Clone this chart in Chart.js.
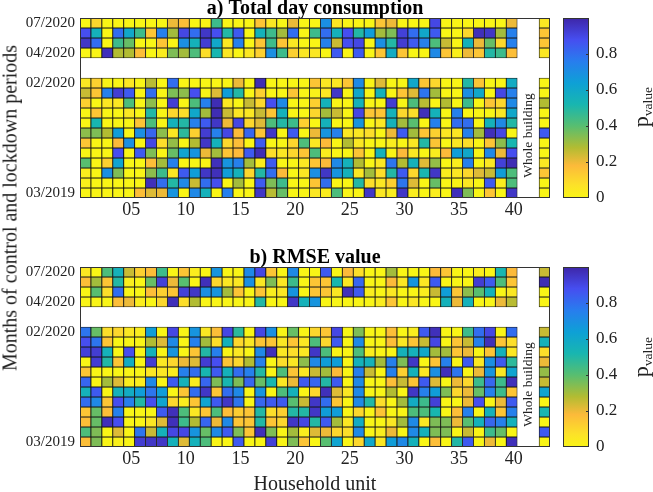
<!DOCTYPE html>
<html><head><meta charset="utf-8">
<script src="https://cdn.jsdelivr.net/npm/chart.js@4"></script>
<style>
html,body{margin:0;padding:0;background:#fff;width:653px;height:492px;overflow:hidden}
canvas{position:absolute}
.t{position:absolute;font-family:"Liberation Serif",serif;color:#222;white-space:nowrap;transform:translate(-50%,-50%) rotate(-90deg)}
</style></head><body>
<canvas id="heatA" style="left:0;top:0"></canvas>
<canvas id="barA" style="left:558px;top:0"></canvas>
<canvas id="heatB" style="left:0;top:249px"></canvas>
<canvas id="barB" style="left:558px;top:249px"></canvas>
<div class="t" style="left:10px;top:208px;font-size:20px">Months of control and lockdown periods</div>
<div class="t" style="left:641px;top:107px;font-size:22px">p<span style="font-size:13.5px;position:relative;top:4px">value</span></div>
<div class="t" style="left:641px;top:357px;font-size:22px">p<span style="font-size:13.5px;position:relative;top:4px">value</span></div>
<script>
const units=[1,2,3,4,5,6,7,8,9,10,11,12,13,14,15,16,17,18,19,20,21,22,23,24,25,26,27,28,29,30,31,32,33,34,35,36,37,38,39,40,41,42,43];
const unitTicks={5:'05',10:'10',15:'15',20:'20',25:'25',30:'30',35:'35',40:'40'};
const months=['07/2020','06/2020','05/2020','04/2020','-','-','02/2020','01/2020','12/2019','11/2019','10/2019','09/2019','08/2019','07/2019','06/2019','05/2019','04/2019','03/2019'];
const monthTicks=['07/2020','04/2020','02/2020','03/2019'];
const barTicks=[0,.2,.4,.6,.8];
const totalDay=[
[0,.1,0,0,0,0,0,0,.2,.17,0,0,.45,0,0,0,.15,.05,0,.2,0,0,.7,.05,0,0,0,.15,.2,0,0,0,.9,0,0,0,0,0,0,.2],
[.88,.55,0,.8,.6,.45,.15,.75,.3,.9,.8,.95,.88,.5,.85,0,.55,.45,.3,.8,0,.45,.8,.55,.88,.5,.65,.3,.35,.92,.8,.6,.85,0,0,.1,.97,.95,.3,.75],
[.95,.8,0,.45,.38,0,0,.15,0,.7,.55,.93,.6,.05,.75,0,.15,.45,.15,.05,0,0,.75,.25,.88,.9,0,.7,.5,.93,.85,.75,.42,.25,0,.55,.2,.38,.1,.75],
[0,0,.97,.28,.28,.17,0,.03,.35,.3,.42,.08,.52,.05,0,.05,.12,.7,.45,.12,.05,.05,0,.85,0,.85,0,.15,.58,.15,0,0,.72,.15,.02,.2,.15,.5,.45,.17],
null,null,
[.05,.12,0,0,.05,0,.27,0,.8,0,0,0,0,0,.2,0,.98,0,0,0,0,.15,.05,.05,.15,.72,0,.22,0,0,.6,.15,.1,0,0,.5,.15,0,0,.58],
[.25,.15,.75,.93,.85,0,.8,0,.35,.33,.88,0,.22,.65,.5,0,.12,0,0,.15,0,.02,.05,.95,0,.6,0,.55,0,.15,.22,.78,.3,0,0,.7,.6,0,.9,.75],
[.12,0,.05,.05,.42,0,.33,0,.93,0,.42,.75,.98,.05,0,.25,.1,.88,.72,0,0,.12,.55,0,0,.55,0,0,.93,0,.42,.27,0,.28,0,.45,0,.15,.1,.72],
[0,.15,0,0,.05,0,.5,0,.1,.08,.6,.3,.98,.25,.05,.05,.25,.15,.55,0,0,.1,.3,.25,0,.9,.15,.15,.55,.1,.08,.97,.55,0,.75,0,0,0,.05,.6],
[0,.52,0,0,0,.15,.42,0,.55,.5,.75,.85,.95,.2,.9,.1,.22,.42,.5,.45,.12,0,.55,0,0,.68,0,.05,.55,.3,.4,0,.75,0,.8,.8,0,.55,.72,.5],
[.33,.35,.28,.65,0,.7,.82,.33,.05,.48,.12,.93,.75,.9,.18,.82,.15,.95,0,.85,0,.2,.68,.75,.05,.05,.08,0,.2,.85,.3,.15,.12,.05,.05,.75,.3,.97,.9,0],
[.15,0,0,.18,.7,0,.9,.08,.32,0,.28,.95,.55,.1,.17,0,.85,0,0,.1,.42,.05,.18,0,.28,.05,0,0,.03,0,.05,.5,.15,0,.05,.08,0,.15,.33,.52],
[0,0,0,.88,0,.85,.35,0,.38,.62,.68,.2,.3,.15,.18,.85,.98,.08,.05,.1,.15,.42,.03,0,0,.15,0,.55,0,.18,.05,0,.03,.18,.65,.6,0,.72,.2,.88],
[.4,0,.12,.62,0,0,.17,.3,.75,0,0,0,.97,.68,.75,.3,.03,.85,0,0,.05,.15,.18,.72,.55,.28,0,.05,.78,.28,.55,.22,.32,0,.03,.75,0,.05,.92,.98],
[.03,0,.7,.35,0,0,.33,.45,.05,.85,.65,.95,.97,.65,.55,.1,.5,.8,.18,0,.05,.7,.95,.68,.55,.05,.3,.08,.5,.85,.1,.52,.95,.03,.05,.1,.22,.25,.65,.42],
[.02,0,0,0,0,0,.97,.8,.5,.72,.25,.8,.88,0,.3,0,.85,.35,.45,0,0,.15,.8,0,0,.5,.08,.05,.12,.78,.22,0,.38,0,0,.05,0,.85,.03,.42],
[0,0,0,0,0,.17,.22,.2,.68,0,.72,.55,0,.75,0,0,.95,.27,.38,0,0,.05,.03,.42,0,0,.95,.05,.03,.95,.03,0,.03,0,.97,.35,0,.15,0,.95]
];
const totalDayWhole=[.05,.15,.15,.05,null,null,0,0,.28,0,0,.85,0,0,.05,.15,0,0];
const rmse=[
[.05,0,.42,.55,.25,.12,.17,.45,0,.15,.03,0,.68,0,0,.72,.9,.15,0,.72,0,0,.85,0,.18,.08,0,0,.3,0,0,0,.18,.15,0,0,.03,0,.52,.18],
[.17,.3,.15,.5,.03,0,.38,.92,.2,.4,0,.97,.1,.05,.05,.7,.05,.35,.05,.45,0,.15,.15,.52,.05,.82,0,0,.18,.05,.68,.05,.85,0,0,0,.93,.85,.42,.15],
[0,.4,.08,.8,0,0,.17,.12,.15,.92,.95,.7,.68,.3,.15,0,.15,.03,.05,.68,0,.15,.15,.05,.97,.85,.03,0,.05,0,0,.03,.25,.65,.15,.33,.4,.55,0,.05],
[0,0,0,.17,.2,.03,0,.1,.97,.08,.28,0,0,0,0,0,.5,0,0,.95,.55,.68,0,0,0,0,0,.03,.15,0,.05,0,0,.55,.2,.55,0,0,.2,.27],
null,null,
[.78,.38,.08,.1,.05,.03,.65,0,.9,0,.68,.05,.17,.9,.48,0,.9,.7,0,.38,0,.1,.15,.9,0,.35,0,0,.17,0,.03,.85,.97,0,0,.45,.8,.9,0,.8],
[.88,.78,.15,0,0,0,.28,.22,.72,0,.75,.3,.08,.55,.1,.05,.15,.15,.05,.15,.05,.42,.1,.85,0,.72,0,0,.17,.05,.15,.25,.9,0,.15,.25,.75,.97,.15,.08],
[.92,.93,.55,0,.88,0,.55,0,.68,0,.15,.5,.75,0,.05,0,.72,.97,.05,.08,.05,.95,.42,0,0,.42,.03,0,0,.55,.55,.6,.3,.3,.15,.2,0,.15,.55,.05],
[0,.93,.5,.15,.58,0,.93,.05,.1,.2,.22,.93,.88,.15,.1,.28,.75,0,.08,.05,.33,.72,.65,.65,0,.55,.55,.3,.75,.35,.95,0,.15,.75,0,.85,.05,.7,.85,.48],
[.15,0,0,0,0,0,.05,.05,.03,.75,.8,.52,.85,.55,.8,.75,.5,0,.42,.15,.05,.25,.3,.18,0,.75,.25,0,.75,.12,.55,.05,.7,.97,.78,0,.2,.68,.05,.62],
[.82,0,.3,.22,.03,.03,.72,0,.85,.55,.03,.82,.35,.52,.35,.82,.38,.52,.05,.2,.85,.82,.5,.85,0,.72,0,0,.17,.25,.15,.85,.22,0,.2,.1,.45,.82,.45,.97],
[.55,.85,0,.55,.58,.65,.78,.65,0,.15,.8,.95,.15,.8,.72,0,.68,0,.42,.55,0,.1,.97,.22,.05,.72,0,0,.28,0,.95,.75,.65,.35,.1,.2,.38,.75,.45,.15],
[.8,.72,.15,.88,.75,.5,.88,.62,.1,.03,.15,.62,.85,.95,.78,0,.82,.85,.85,.4,.25,.95,.8,.15,0,.72,.5,.08,0,.3,.58,.45,.92,0,0,.2,.88,0,.2,.85],
[.15,.38,.17,.75,0,0,0,.85,.97,.42,.05,.15,.42,.17,.13,.15,.5,.08,.12,.5,.5,.95,.65,.65,0,.1,0,.15,0,0,.42,.42,.52,0,.17,.75,0,.55,.15,.75],
[.17,.38,.97,.88,0,0,.05,.22,.97,.45,.28,.82,.2,.72,.15,.15,.5,.15,.1,.95,.9,.5,.85,.3,.05,.58,0,0,.05,.3,.72,.05,.35,.35,.2,.4,.55,.82,.75,.55],
[.42,.35,0,.22,0,.78,.25,.55,.9,.9,.68,.38,.72,.85,.35,.15,.97,.35,0,.3,.03,.22,.2,.1,.08,.72,0,.03,.2,0,.72,.55,.35,.35,0,.25,0,.45,.38,0],
[.17,.35,0,.02,0,.93,.95,.95,.55,.22,.55,.42,0,0,.85,0,0,.92,0,.35,.15,0,.4,.62,0,.1,.6,.05,.65,.72,.55,0,.17,0,.5,.85,0,.2,0,.97]
];
const rmseWhole=[.25,.98,0,0,null,null,.25,.55,.08,.2,.32,.25,.62,0,.52,0,.85,0];

const stops=[[0,[249,245,22]],[.07,[252,226,40]],[.18,[252,186,58]],[.28,[178,188,50]],[.4,[88,190,112]],[.52,[24,182,176]],[.64,[14,160,214]],[.76,[40,125,238]],[.88,[70,78,240]],[1,[62,38,168]]];
function colorOf(v){
  for(let i=1;i<stops.length;i++){
    if(v<=stops[i][0]){
      const a=stops[i-1],b=stops[i],t=(v-a[0])/(b[0]-a[0]);
      return 'rgb('+a[1].map((c,k)=>Math.round(c+(b[1][k]-c)*t)).join(',')+')';
    }
  }
  return 'rgb(62,38,168)';
}
const FONT='"Liberation Serif",serif', INK='#222';
const frame={id:'frame',afterDraw(c){
  const a=c.chartArea,x=c.ctx;
  x.save();x.strokeStyle='#333';x.lineWidth=1;
  x.strokeRect(a.left+.5,a.top+.5,a.right-a.left-1,a.bottom-a.top-1);
  if(c.options.plugins.frame.note){
    const sx=c.scales.x,sy=c.scales.y;
    const px=(sx.getPixelForValue(40)+sx.getPixelForValue(41))/2, py=sy.getPixelForValue(5.75);
    x.translate(px,py);x.rotate(-Math.PI/2);x.font='13.5px '+FONT;x.fillStyle=INK;x.textAlign='center';x.textBaseline='middle';
    x.fillText(c.options.plugins.frame.note,0,0);
  }
  if(c.options.plugins.frame.inner){
    const sy=c.scales.y;
    barTicks.forEach(v=>{if(!v)return;const p=Math.round(sy.getPixelForValue(v))+.5;x.beginPath();x.moveTo(a.right-3,p);x.lineTo(a.right,p);x.stroke();});
  }
  x.restore();
}};
function heat(id,rows,whole,title,h,xBox,xTitle){
  const cv=document.getElementById(id);cv.width=552;cv.height=h;
  const datasets=[];
  rows.forEach((r,i)=>{
    if(!r)return;
    const vals=r.concat([null,null,whole[i]]);
    const yv=months.length-1-i;
    datasets.push({data:vals.map(v=>v===null?null:[yv-.5,yv+.5]),
      backgroundColor:vals.map(v=>v===null?'transparent':colorOf(v)),
      borderColor:'#161616',borderWidth:.8,borderSkipped:false,
      barPercentage:1,categoryPercentage:1,grouped:false});
  });
  new Chart(cv,{type:'bar',data:{labels:units,datasets},plugins:[frame],options:{
    responsive:false,animation:false,devicePixelRatio:1,
    layout:{padding:{left:0,right:2,top:0,bottom:0}},
    plugins:{legend:{display:false},tooltip:{enabled:false},
      title:{display:true,text:title,fullSize:false,color:'#000',padding:{top:0,bottom:0},font:{family:FONT,size:20,weight:'bold',lineHeight:.9}},
      frame:{note:'Whole building'}},
    scales:{
      x:{type:'category',grid:{display:false,drawTicks:false},border:{display:false},
        afterFit(s){s.height=xBox;s.paddingLeft=0;s.paddingRight=0;},
        title:xTitle?{display:true,text:xTitle,color:INK,font:{family:FONT,size:20,lineHeight:1},padding:{bottom:0,top:0}}:{display:false},
        ticks:{autoSkip:false,maxRotation:0,minRotation:0,padding:3,labelOffset:2,color:INK,font:{family:FONT,size:18,lineHeight:1},callback(v,i){return unitTicks[units[i]]||'';}}},
      y:{type:'linear',min:-.5,max:months.length-.5,grid:{display:false,drawTicks:false},border:{display:false},
        afterBuildTicks(s){s.ticks=monthTicks.map(m=>({value:months.length-1-months.indexOf(m)}));},
        afterFit(s){s.width=80;s.paddingTop=0;s.paddingBottom=0;},
        ticks:{padding:5,color:INK,font:{family:FONT,size:15,lineHeight:1},callback(v){return months[months.length-1-v];}}}
    }}});
}
function colorbar(id,h,top,bottom){
  const cv=document.getElementById(id);cv.width=95;cv.height=h;
  new Chart(cv,{type:'bar',data:{labels:['p'],datasets:[{data:[[0,1]],borderWidth:0,barPercentage:1,categoryPercentage:1,inflateAmount:0,
    backgroundColor(c){
      const a=c.chart.chartArea;if(!a)return '#fff';
      const g=c.chart.ctx.createLinearGradient(0,a.bottom,0,a.top);
      stops.forEach(s=>g.addColorStop(s[0],'rgb('+s[1].join(',')+')'));return g;}}]},
    plugins:[frame],options:{responsive:false,animation:false,devicePixelRatio:1,
    layout:{padding:{left:5,right:0,top,bottom}},
    plugins:{legend:{display:false},tooltip:{enabled:false},frame:{inner:true}},
    scales:{
      x:{display:false,type:'category'},
      y:{type:'linear',position:'right',min:0,max:1,grid:{display:false,drawTicks:false},border:{display:false},
        afterBuildTicks(s){s.ticks=barTicks.map(v=>({value:v}));},
        afterFit(s){s.width=64;s.paddingTop=0;s.paddingBottom=0;},
        ticks:{padding:7,color:INK,font:{family:FONT,size:17,lineHeight:1},callback(v){return String(v);}}}
    }}});
}
heat('heatA',totalDay,totalDayWhole,'a) Total day consumption',225,27,null);
colorbar('barA',225,18,27);
heat('heatB',rmse,rmseWhole,'b) RMSE value',246,48,'Household unit');
colorbar('barB',246,18,48);
</script>
</body></html>
